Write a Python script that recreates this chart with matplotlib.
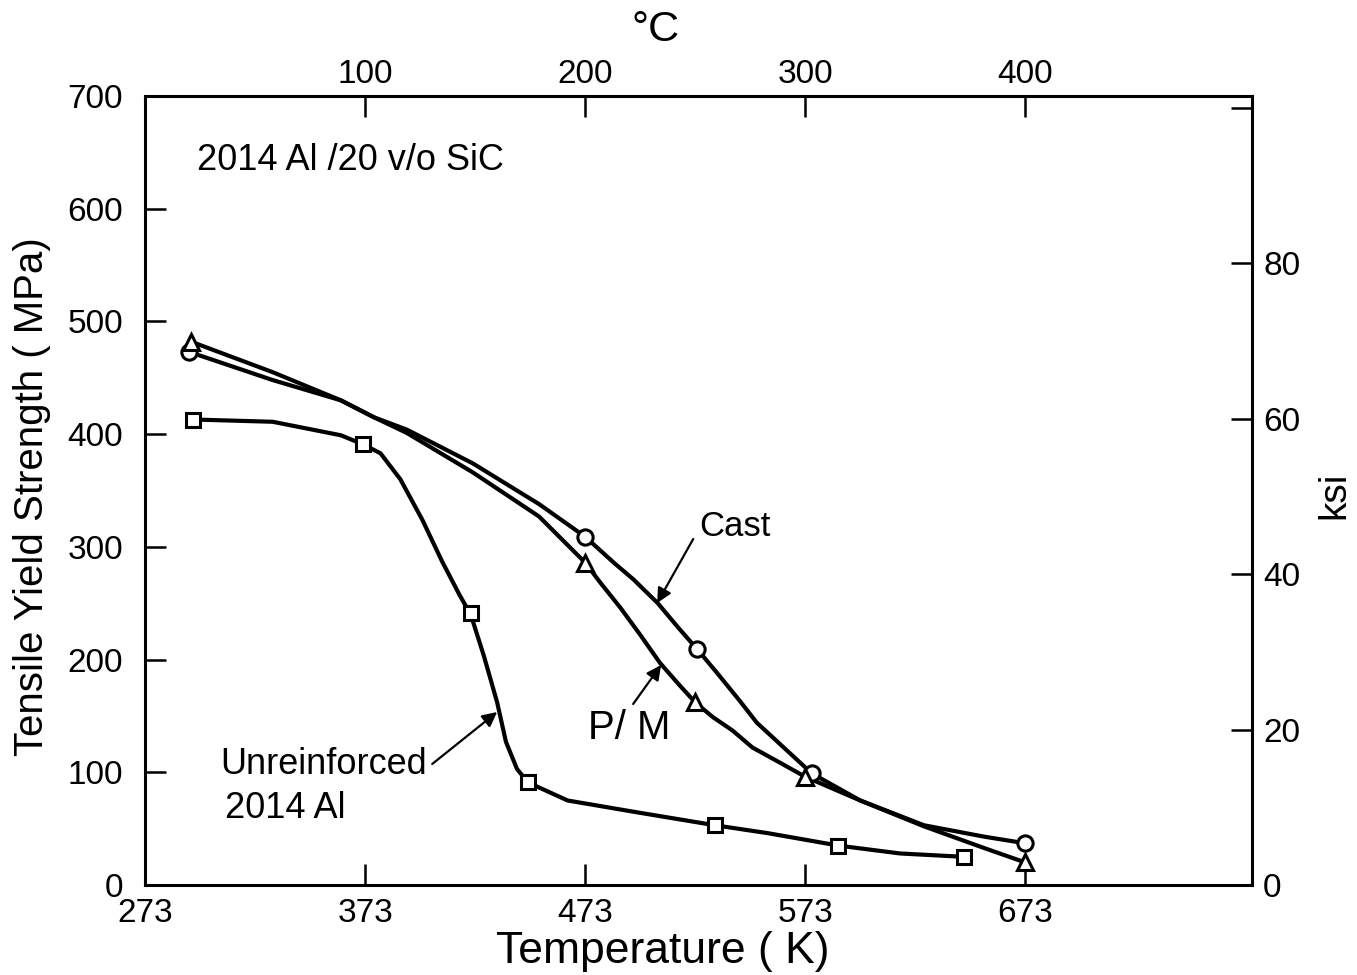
import matplotlib
matplotlib.use("Agg")
import matplotlib.pyplot as plt

plt.rcParams['font.family'] = ['Liberation Sans', 'DejaVu Sans']

# marker points (K, MPa)
cast_k = [293, 473, 524, 576, 673]
cast_mpa = [473, 309, 209, 99, 37]
pm_k = [294, 473, 523, 573, 673]
pm_mpa = [482, 286, 162, 96, 20]
unr_k = [295, 372, 421, 447, 532, 588, 645]
unr_mpa = [413, 391, 241, 91, 53, 35, 25]

# curves (K, MPa)
cast_curve_k = [293, 331, 362, 377, 392, 422, 452, 473, 486, 495, 506, 515,
                524, 533, 543, 551, 566, 576, 598, 627, 654, 673]
cast_curve_mpa = [473, 448, 430, 415, 404, 374, 338, 309, 286, 271, 250, 229,
                  209, 188, 164, 144, 117, 99, 75, 53, 43, 37]
pm_curve_k = [294, 331, 362, 377, 392, 422, 452, 473, 480, 489, 498, 507,
              516, 523, 531, 540, 549, 562, 573, 598, 627, 654, 673]
pm_curve_mpa = [482, 455, 430, 415, 401, 366, 327, 286, 268, 246, 222, 197,
                177, 162, 149, 137, 122, 108, 96, 75, 52, 33, 20]
unr_curve_k = [295, 331, 362, 372, 380, 389, 399, 408, 416, 421, 427, 433,
               437, 442, 447, 465, 495, 532, 556, 588, 616, 645]
unr_curve_mpa = [413, 411, 399, 391, 383, 360, 324, 287, 257, 240, 203, 162,
                 127, 103, 91, 75, 65, 53, 46, 35, 28, 25]

k_ticks = [273, 373, 473, 573, 673]
mpa_ticks = [0, 100, 200, 300, 400, 500, 600, 700]
c_ticks = [100, 200, 300, 400]
ksi_ticks = [0, 20, 40, 60, 80, 100]
ksi_labels = ['0', '20', '40', '60', '80', '']

MPA_PER_KSI = 6.895

fig = plt.figure(figsize=(13.57, 9.75), dpi=100)
ax = fig.add_axes([0.1069, 0.0923, 0.8157, 0.8092])

lw = 3
for xs, ys in [(cast_curve_k, cast_curve_mpa), (pm_curve_k, pm_curve_mpa),
               (unr_curve_k, unr_curve_mpa)]:
    ax.plot(xs, ys, color='black', lw=lw, solid_joinstyle='round',
            solid_capstyle='round', zorder=2)

mk = dict(linestyle='none', markerfacecolor='white', markeredgecolor='black',
          markeredgewidth=2.2, zorder=3)
ax.plot(cast_k, cast_mpa, marker='o', markersize=11, **mk)
ax.plot(pm_k, pm_mpa, marker='^', markersize=12, **mk)
ax.plot(unr_k, unr_mpa, marker='s', markersize=10.5, **mk)

ax.set_xlim(273, 776)
ax.set_ylim(0, 700)
ax.set_xticks(k_ticks)
ax.set_yticks(mpa_ticks)
ax.tick_params(direction='in', length=15, width=1.8, labelsize=24)
ax.tick_params(axis='y', pad=16)
ax.tick_params(axis='x', pad=9)
for s in ax.spines.values():
    s.set_linewidth(2.2)

top = ax.secondary_xaxis('top', functions=(lambda k: k - 273, lambda c: c + 273))
top.set_xticks(c_ticks)
top.tick_params(direction='in', length=15, width=1.8, labelsize=24, pad=4)

right = ax.secondary_yaxis('right', functions=(lambda m: m / MPA_PER_KSI, lambda k: k * MPA_PER_KSI))
right.set_yticks(ksi_ticks)
right.set_yticklabels(ksi_labels)
right.tick_params(direction='in', length=15, width=1.8, labelsize=24, pad=8)

ax.text(-0.102, 0.492, 'Tensile Yield Strength ( MPa)', transform=ax.transAxes,
        rotation=90, ha='center', va='center', fontsize=29)
ax.text(0.468, -0.084, 'Temperature ( K)', transform=ax.transAxes,
        ha='center', va='center', fontsize=32)
ax.text(0.4616, 1.084, '°C', transform=ax.transAxes,
        ha='center', va='center', fontsize=31)
ax.text(1.074, 0.494, 'ksi', transform=ax.transAxes,
        rotation=90, ha='center', va='center', fontsize=28)

ax.text(296.6, 643, '2014 Al /20 v/o SiC', ha='left', va='center', fontsize=26)
ax.text(525, 318, 'Cast', ha='left', va='center', fontsize=25)
ax.text(474.4, 139, 'P/ M', ha='left', va='center', fontsize=29)
ax.text(307, 106.5, 'Unreinforced', ha='left', va='center', fontsize=26)
ax.text(309.4, 68, '2014 Al', ha='left', va='center', fontsize=26)

arrow = dict(arrowstyle='-|>', lw=1.6, color='black', mutation_scale=22,
             shrinkA=0, shrinkB=0)
ax.annotate('', xy=(505.7, 250.2), xytext=(522.1, 307.0), arrowprops=arrow)
ax.annotate('', xy=(507.5, 195.2), xytext=(494.8, 160.6), arrowprops=arrow)
ax.annotate('', xy=(433.0, 153.5), xytext=(403.5, 107.4), arrowprops=arrow)

fig.savefig('out.png', dpi=100)
